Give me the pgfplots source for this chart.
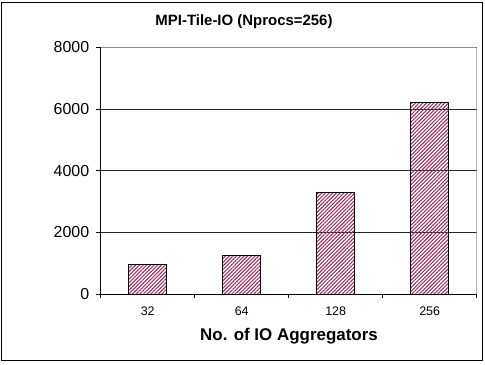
\documentclass[border=0pt]{standalone}
\usepackage{pgfplots}
\pgfplotsset{compat=1.18}
\usepackage{fontspec}
\setmainfont{Liberation Sans}
\usetikzlibrary{patterns.meta}
\definecolor{plum}{HTML}{993366}
\definecolor{framegray}{HTML}{8C8C8C}

\begin{document}
\begin{tikzpicture}[x=1bp,y=1bp]
  % fixed canvas and outer chart frame
  \path (0,0) rectangle (485,364);
  \draw[black, line width=0.9bp] (1,4) rectangle (482,362);
  \node[anchor=base, font=\bfseries\fontsize{15}{18}\selectfont] at (244,339) {MPI-Tile-IO (Nprocs=256)};
  \node[anchor=base, font=\bfseries\fontsize{17}{20}\selectfont] at (289,24) {No. of IO Aggregators};
  \begin{axis}[
    at={(100.7bp,70bp)}, anchor=south west,
    scale only axis, width=376bp, height=246.5bp,
    xmin=-0.5, xmax=3.5, ymin=0, ymax=8000,
    axis lines=left, axis line style={-, black, line width=0.9bp},
    xtick={0,1,2,3}, xticklabels={32,64,128,256},
    major x tick style={draw=none},
    minor xtick={-0.5,0.5,1.5,2.5,3.5},
    minor x tick style={black, line width=0.7bp},
    minor tick length=4bp,
    ytick={0,2000,4000,6000,8000},
    major y tick style={black, line width=0.7bp},
    major tick length=5bp,
    tick align=outside,
    ymajorgrids, grid style={black!85, line width=0.8bp},
    scaled y ticks=false,
    /pgf/number format/assume math mode=true,
    yticklabel style={font=\fontsize{16}{18}\selectfont, xshift=-3bp},
    xticklabel style={font=\fontsize{12.5}{15}\selectfont, yshift=-4bp},
    /pgf/number format/.cd, 1000 sep={},
  ]
    \addplot[ybar, bar width=38bp, draw=black, line width=0.9bp,
      pattern={Lines[angle=45, distance=2.6bp, line width=1.1bp]}, pattern color=plum]
      coordinates {(0,970) (1,1260) (2,3290) (3,6230)};
    \draw[framegray, line width=1.5bp] (rel axis cs:0,1) -- (rel axis cs:1,1) -- (rel axis cs:1,0);
  \end{axis}
\end{tikzpicture}
\end{document}
